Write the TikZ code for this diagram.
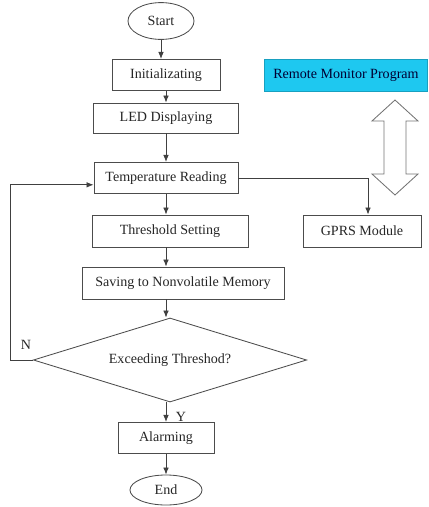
\documentclass[tikz,border=0pt]{standalone}
\usepackage{fontspec}
\setmainfont{Liberation Serif}
\usetikzlibrary{shapes.geometric,arrows.meta}
\definecolor{remotecyan}{RGB}{30,200,240}
\begin{document}
\begin{tikzpicture}[x=0.025cm, y=-0.025cm,
    every node/.style={font=\normalsize, text=black!85},
    box/.style={draw=black!70, line width=0.6pt, rectangle, minimum height=0.78cm, inner sep=2pt},
    term/.style={draw=black!70, line width=0.6pt, ellipse, inner sep=0pt},
    flow/.style={draw=black!75, line width=0.6pt, -{Latex[length=5pt,width=4pt]}}]
  \useasboundingbox (0,0) rectangle (428,507);

  % main column
  \node[term, minimum width=1.65cm, minimum height=0.92cm] (start) at (161,21) {Start};
  \node[box, minimum width=2.7cm] (init) at (166,75) {Initializating};
  \node[box, minimum width=3.63cm, minimum height=0.75cm] (led) at (166,118) {LED Displaying};
  \node[box, minimum width=3.6cm] (temp) at (166,178) {Temperature Reading};
  \node[box, minimum width=3.9cm, minimum height=0.8cm] (thr) at (170,231) {Threshold Setting};
  \node[box, minimum width=5.05cm, minimum height=0.8cm] (save) at (183,283) {Saving to Nonvolatile Memory};
  \node[draw=black!70, line width=0.6pt, diamond, aspect=3.25, inner sep=0pt,
        minimum width=6.83cm, minimum height=2.1cm] (dia) at (170,360) {Exceeding Threshod?};
  \node[box, minimum width=2.4cm] (alarm) at (166,438) {Alarming};
  \node[term, minimum width=1.8cm, minimum height=0.75cm] (end) at (166,490) {End};

  % right side
  \node[box, minimum width=2.95cm, minimum height=0.8cm] (gprs) at (362,231) {GPRS Module};
  \node[rectangle, fill=remotecyan, draw=remotecyan!80!black, line width=0.4pt,
        minimum width=4.08cm, minimum height=0.8cm, text=black!80!blue] (remote) at (346,75) {Remote Monitor Program};

  % double arrow
  \draw[black!55, line width=0.6pt]
    (395,100) -- (418,121) -- (406,121) -- (406,174) -- (418,174) -- (395,195)
    -- (372,174) -- (384,174) -- (384,121) -- (372,121) -- cycle;

  % connectors
  \draw[flow] (start) -- (start |- init.north);
  \draw[flow] (init) -- (led);
  \draw[flow] (led) -- (temp);
  \draw[flow] (temp) -- (temp |- thr.north);
  \draw[flow] (thr.south -| temp) -- (save.north -| temp);
  \draw[flow] (save.south -| temp) -- (dia.north -| temp);
  \draw[flow] (dia.south -| temp) -- (alarm);
  \draw[flow] (alarm) -- (end);
  \draw[flow] (temp.east) -| ([xshift=0.15cm]gprs.north);
  \draw[flow] (dia.west) -- (10,360) |- ([yshift=-0.17cm]temp.west);

  % labels
  \node at (26,345) {N};
  \node at (181,417) {Y};
\end{tikzpicture}
\end{document}
